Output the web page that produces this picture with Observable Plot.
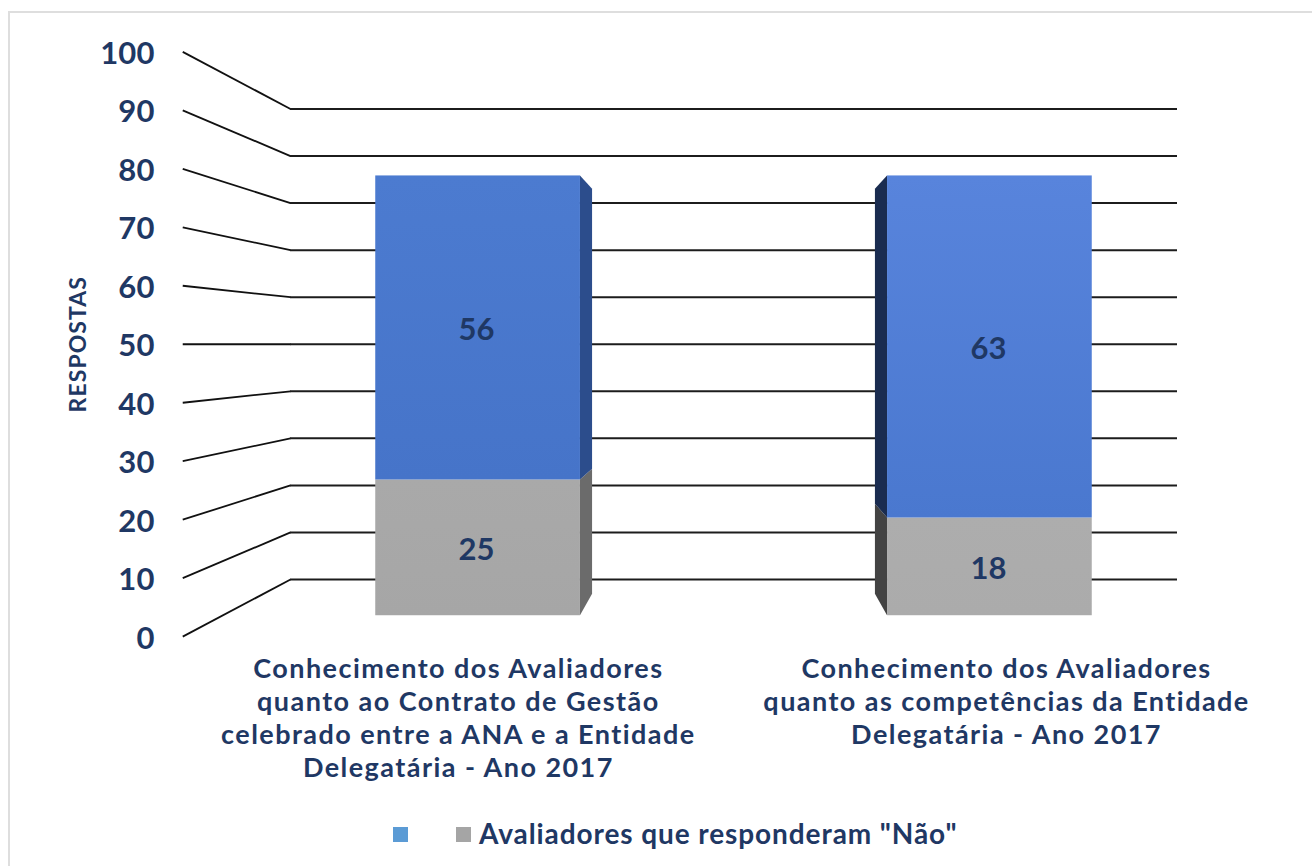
<!DOCTYPE html>
<html lang="pt">
<head>
<meta charset="utf-8">
<script src="https://cdn.jsdelivr.net/npm/d3@7"></script>
<script src="https://cdn.jsdelivr.net/npm/@observablehq/plot@0.6"></script>
<style>
  html, body { margin: 0; padding: 0; background: #fff; overflow: hidden; }
  body { width: 1312px; height: 866px; position: relative; font-family: Lato, sans-serif; }
  #frame { position: absolute; left: 8px; top: 11px; right: -4px; bottom: -4px; border: 2px solid #dedede; box-sizing: border-box; }
  #chart { position: relative; }
  #chart svg { display: block; }
  #legend { position: relative; height: 51px; color: #1f3864; font-weight: 700; font-size: 28px; }
  #legend i { position: absolute; top: 12px; width: 15px; height: 15px; }
  #legend span { position: absolute; left: 479px; top: 1px; line-height: 34px; letter-spacing: 0.91px; white-space: nowrap; }
  .tickText text { letter-spacing: 0.2px; }
  .catText text { letter-spacing: 1.45px; }
  .axisTitle text { letter-spacing: 1.05px; }
</style>
</head>
<body>
<div id="frame"></div>
<div id="chart"></div>
<div id="legend">
  <i id="s1" style="left:393px;background:#5b9bd5"></i>
  <i id="s2" style="left:456px;background:#a5a5a5"></i>
  <span id="legendLabel"></span>
</div>
<script>
// --- data ---
const categories = [
  "Conhecimento dos Avaliadores\nquanto ao Contrato de Gestão\ncelebrado entre a ANA e a Entidade\nDelegatária - Ano 2017",
  "Conhecimento dos Avaliadores\nquanto as competências da Entidade\nDelegatária - Ano 2017"
];
const seriesGray = [25, 18];
const seriesBlue = [56, 63];
const ticks = [0, 10, 20, 30, 40, 50, 60, 70, 80, 90, 100];
const legendText = 'Avaliadores que responderam "Não"';
const axisTitle = "RESPOSTAS";

// --- styles ---
const ink = "#1f3864";
const sideBlue = ["#2c4d8c", "#1a2c50"];
const sideGray = ["#6b6b6b", "#434343"];

// --- perspective planes, as scale factors relative to the back wall ---
const planeAxis = 1.243, planeFront = 1.154, planeBack = 1.063;
const barWidth = 0.4;
const px = (x, s) => 1 + s * (x - 1);     // around the vanishing point (x = 1)
const py = (v, s) => 50 + s * (v - 50);   // around the vanishing point (v = 50)

const bars = categories.map((c, i) => ({
  i,
  x0: i + 0.5 - barWidth / 2,
  x1: i + 0.5 + barWidth / 2,
  gray: seriesGray[i],
  total: seriesGray[i] + seriesBlue[i]
}));
// inner edge of each bar: the one facing the vanishing point
const sides = bars.flatMap(b => {
  const edge = b.i === 0 ? b.x1 : b.x0;
  const face = (key, lo, hi, fill) => [planeFront, planeBack].map(s => ({
    key, fill, x: px(edge, s), y1: py(lo, s), y2: py(hi, s)
  }));
  return [
    face("g" + b.i, 0, b.gray, sideGray[b.i]),
    face("b" + b.i, b.gray, b.total, sideBlue[b.i])
  ].flat();
});

const gradientDefs = () => {
  const defs = d3.create("svg:defs");
  const grad = (id, top, bottom) => {
    const g = defs.append("linearGradient").attr("id", id)
      .attr("x1", 0).attr("x2", 0).attr("y1", 0).attr("y2", 1);
    g.append("stop").attr("offset", 0).attr("stop-color", top);
    g.append("stop").attr("offset", 1).attr("stop-color", bottom);
  };
  grad("blue0", "#4c7bd0", "#4674c9");
  grad("blue1", "#5884dc", "#4a78cf");
  grad("gray0", "#a9a9a9", "#a6a6a6");
  grad("gray1", "#adadad", "#ababab");
  return defs.node();
};

const chart = Plot.plot({
  width: 1312,
  height: 815,
  marginLeft: 290,
  marginRight: 135,
  marginTop: 108.5,
  marginBottom: 236,
  style: { fontFamily: "Lato, sans-serif", background: "transparent", overflow: "visible" },
  x: { domain: [0, 2], axis: null },
  y: { domain: [0, 100], axis: null },
  color: { type: "identity" },
  marks: [
    gradientDefs,
    // side walls of the grid
    Plot.link(ticks, {
      x1: () => px(0, planeAxis), x2: () => 0,
      y1: d => py(d, planeAxis), y2: d => d,
      stroke: "#111", strokeWidth: 1.8
    }),
    // back wall of the grid
    Plot.ruleY(ticks, { x1: () => 0, x2: () => 2, stroke: "#1c1c1c", strokeWidth: 2 }),
    // inner faces of the bars
    Plot.area(sides, { x1: "x", y1: "y1", y2: "y2", z: "key", fill: "fill" }),
    // front faces
    ...bars.flatMap(b => [
      Plot.rect([b], {
        x1: d => px(d.x0, planeFront), x2: d => px(d.x1, planeFront),
        y1: () => py(0, planeFront), y2: d => py(d.gray, planeFront),
        fill: `url(#gray${b.i})`
      }),
      Plot.rect([b], {
        x1: d => px(d.x0, planeFront), x2: d => px(d.x1, planeFront),
        y1: d => py(d.gray, planeFront), y2: d => py(d.total, planeFront),
        fill: `url(#blue${b.i})`
      })
    ]),
    // value labels
    Plot.text(bars, {
      x: d => px(d.i + 0.5, planeFront), y: d => py(d.gray / 2, planeFront),
      text: d => String(d.gray), fill: ink, fontSize: 31, fontWeight: 700, dx: -1.5, dy: 2
    }),
    Plot.text(bars, {
      x: d => px(d.i + 0.5, planeFront), y: d => py((d.gray + d.total) / 2, planeFront),
      text: d => String(d.total - d.gray), fill: ink, fontSize: 31, fontWeight: 700, dx: -1.5, dy: 2
    }),
    // value axis labels
    Plot.text(ticks, {
      x: () => px(0, planeAxis), y: d => py(d, planeAxis), text: d => String(d),
      textAnchor: "end", dx: -28, dy: 2, fill: ink, fontSize: 31, fontWeight: 700,
      className: "tickText"
    }),
    // category labels
    Plot.text(categories, {
      x: (d, i) => px(i + 0.5, planeAxis) - i * 0.007, y: () => py(0, planeAxis),
      text: d => d, lineAnchor: "top", textAnchor: "middle", dy: 18,
      lineHeight: 33 / 27, fill: ink, fontSize: 27, fontWeight: 700,
      className: "catText"
    }),
    // axis title
    Plot.text([axisTitle], {
      text: d => d, frameAnchor: "left", textAnchor: "middle", dx: -212, rotate: -90,
      fill: ink, fontSize: 23, fontWeight: 700, className: "axisTitle"
    })
  ]
});
document.getElementById("chart").append(chart);
document.getElementById("legendLabel").textContent = legendText;
</script>
</body>
</html>
